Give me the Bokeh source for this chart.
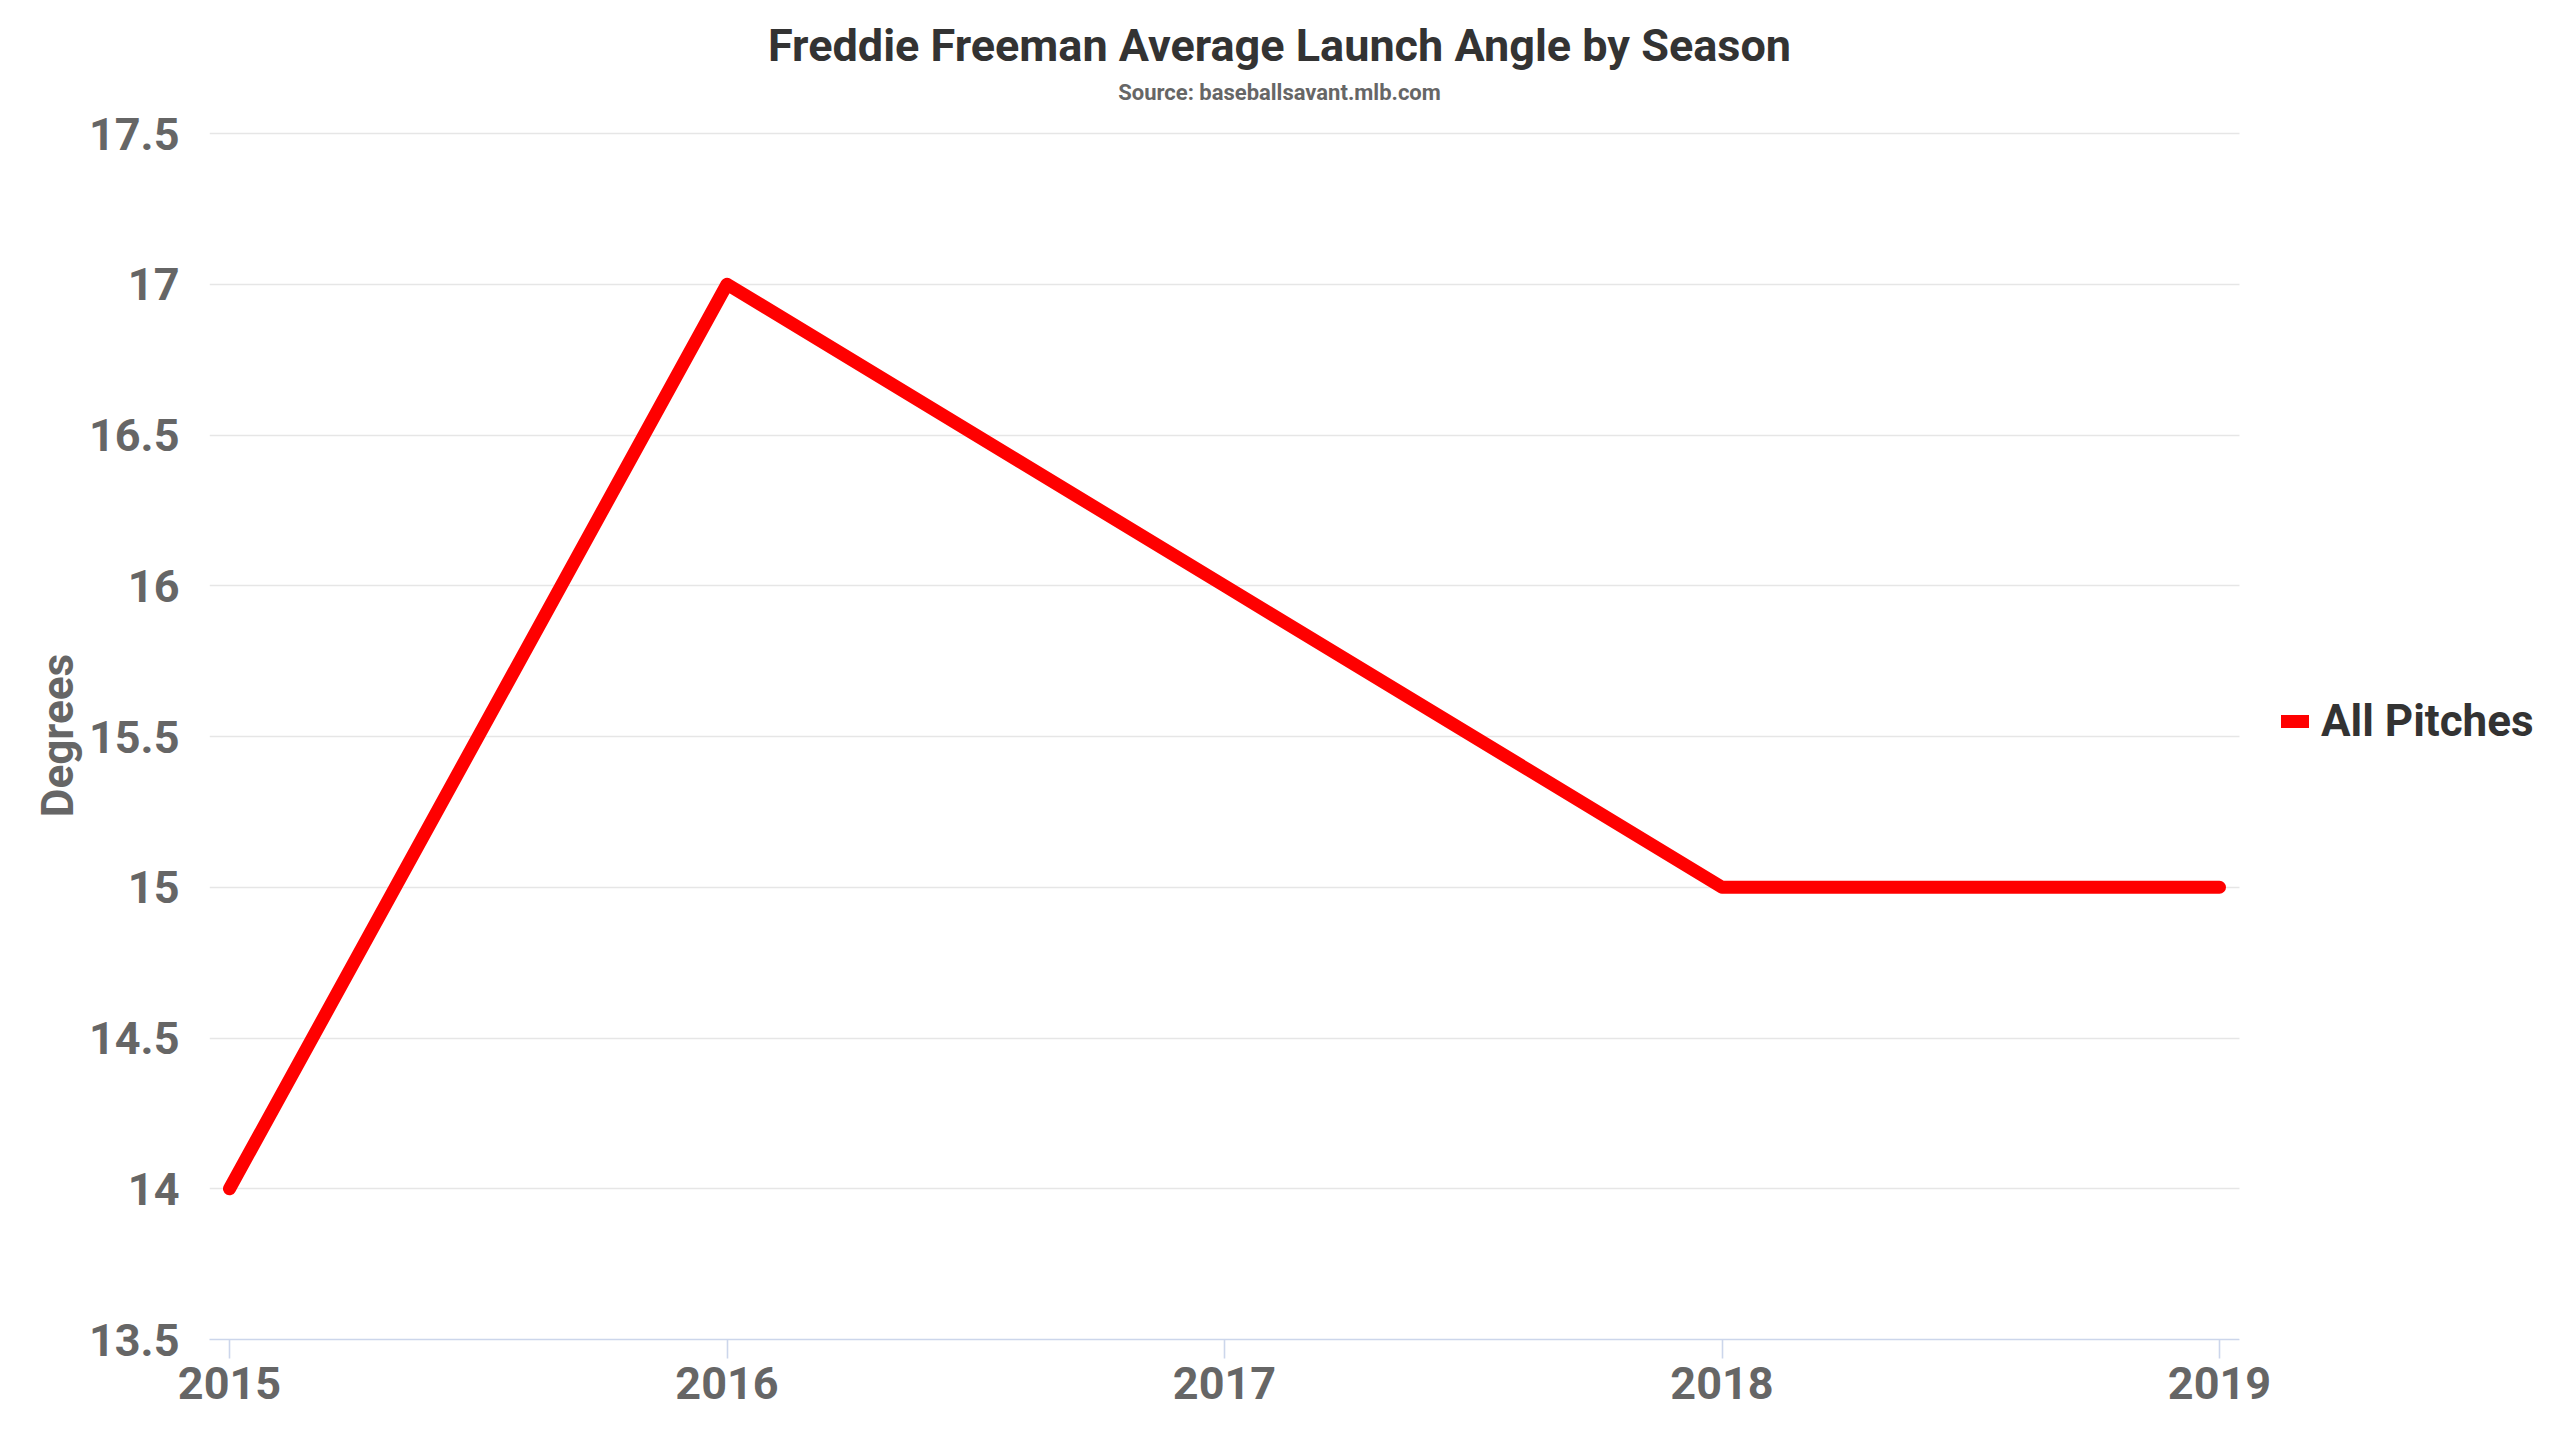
from bokeh.plotting import figure
from bokeh.layouts import column
from bokeh.models import (Range1d, FixedTicker, NumeralTickFormatter, Label, Legend,
                          LegendItem, BoxAnnotation)
from bokeh.embed import file_html
from bokeh.resources import INLINE

# ---- data ----
seasons = [2015, 2016, 2017, 2018, 2019]
launch_angle = [14, 17, 16, 15, 15]
y_ticks = [13.5, 14, 14.5, 15, 15.5, 16, 16.5, 17, 17.5]
series_name = "All Pitches"
title_text = "Freddie Freeman Average Launch Angle by Season"
subtitle_text = "Source: baseballsavant.mlb.com"
y_axis_title = "Degrees"

# ---- layout (pixels) ----
W = 2544
HEAD_H = 106           # header strip holding title + subtitle
MAIN_H = 1424 - HEAD_H
FL = 209               # frame left
TOP_GAP = 25           # space above the frame inside the main figure
TOP_PAD_PX = 2         # frame extends a little above the top tick
BOTTOM = 85
YEAR_PX = 497.5        # pixels per season
PAD_PX = 20            # gap between frame edge and first season
UNIT_PX = 301.5        # pixels per degree
TITLE_CX = 1279        # horizontal centre of the title block
FONT = "Roboto"

X0 = seasons[0] - PAD_PX / YEAR_PX
X_END = seasons[-1] + PAD_PX / YEAR_PX          # end of the drawn plot area
X1 = X0 + (W - FL) / YEAR_PX                     # frame extends under the legend
Y0 = y_ticks[0]
Y1 = y_ticks[-1] + TOP_PAD_PX / UNIT_PX

# ---- header with title and subtitle (frame aligned with the chart's frame) ----
head = figure(width=W, height=HEAD_H, output_backend="svg", toolbar_location=None,
              x_range=Range1d(FL, W), y_range=Range1d(0, HEAD_H),
              x_axis_location=None, y_axis_location=None,
              min_border=0, min_border_left=FL, title=None)
head.outline_line_color = None
head.grid.visible = False
head.background_fill_color = "white"
head.border_fill_color = "white"
head.add_layout(Label(x=TITLE_CX, y=HEAD_H - 45, text=title_text,
                      text_align="center", text_baseline="alphabetic",
                      text_font=FONT, text_font_size="45px", text_font_style="bold",
                      text_color="#333333"))
head.add_layout(Label(x=TITLE_CX, y=HEAD_H - 92, text=subtitle_text,
                      text_align="center", text_baseline="alphabetic",
                      text_font=FONT, text_font_size="22px", text_font_style="bold",
                      text_color="#666666"))

# ---- main chart ----
p = figure(width=W, height=MAIN_H, output_backend="svg", toolbar_location=None,
           x_range=Range1d(X0, X1), y_range=Range1d(Y0, Y1),
           min_border_left=FL, min_border_right=0,
           min_border_top=TOP_GAP, min_border_bottom=BOTTOM, title=None)
p.outline_line_color = None
p.background_fill_color = "white"
p.border_fill_color = "white"

p.xgrid.grid_line_color = None
p.ygrid.grid_line_color = "#e6e6e6"
p.ygrid.grid_line_width = 1.6

main = p.line(seasons, launch_angle, line_color="#ff0000", line_width=13,
              line_cap="round", line_join="round")

# blank out the grid to the right of the plotting area (legend area)
p.add_layout(BoxAnnotation(left=X_END, fill_color="white", fill_alpha=1.0,
                           line_color=None))

legend = Legend(items=[LegendItem(label=series_name, renderers=[main])],
                location=(2281 - FL, 591), glyph_width=28, glyph_height=54,
                label_height=54, label_standoff=12, padding=0, margin=0, spacing=0,
                border_line_color=None, background_fill_alpha=0,
                label_text_font=FONT, label_text_font_size="44px",
                label_text_font_style="bold", label_text_color="#333333")
p.add_layout(legend)

# x axis
xa = p.xaxis[0]
xa.ticker = FixedTicker(ticks=seasons)
xa.bounds = (X0, X_END)
xa.axis_line_color = "#ccd6eb"
xa.axis_line_width = 1.6
xa.major_tick_line_color = "#ccd6eb"
xa.major_tick_line_width = 1.6
xa.major_tick_out = 19
xa.major_tick_in = 0
xa.minor_tick_line_color = None
xa.major_label_standoff = 8
xa.major_label_text_font = FONT
xa.major_label_text_font_size = "45px"
xa.major_label_text_font_style = "bold"
xa.major_label_text_color = "#666666"

# y axis
ya = p.yaxis[0]
ya.ticker = FixedTicker(ticks=y_ticks)
ya.formatter = NumeralTickFormatter(format="0.[0]")
ya.axis_line_color = None
ya.major_tick_line_color = None
ya.minor_tick_line_color = None
ya.major_label_standoff = 24
ya.major_label_text_font = FONT
ya.major_label_text_font_size = "45px"
ya.major_label_text_font_style = "bold"
ya.major_label_text_color = "#666666"
ya.axis_label = y_axis_title
ya.axis_label_text_font = FONT
ya.axis_label_text_font_size = "44px"
ya.axis_label_text_font_style = "bold"
ya.axis_label_text_color = "#666666"
ya.axis_label_standoff = 2

page = column(head, p, spacing=0)

with open("out.html", "w") as f:
    f.write(file_html(page, INLINE))
